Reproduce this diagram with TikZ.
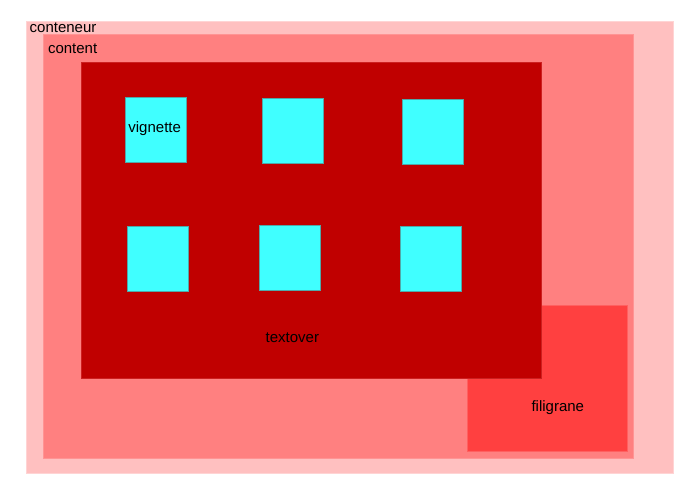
\documentclass[tikz,border=0pt]{standalone}
\usepackage{fontspec}
\setmainfont{Liberation Sans}
\usepackage{tikz}
\usetikzlibrary{positioning}
\definecolor{contpink}{HTML}{FFC0C0}
\definecolor{contline}{HTML}{FFD4D4}
\definecolor{contentred}{HTML}{FF8080}
\definecolor{contentline}{HTML}{FF9494}
\definecolor{overred}{HTML}{C00000}
\definecolor{overline}{HTML}{CC2020}
\definecolor{filired}{HTML}{FF4040}
\definecolor{fililine}{HTML}{FF6060}
\definecolor{vigcyan}{HTML}{40FFFF}
\definecolor{vigline}{HTML}{50A8A8}
\tikzset{
  %% ---- boxes ----
  zone/.style   = {rectangle, inner sep=0pt, outer sep=0pt,
                   line width=0.8pt},
  vigbox/.style = {zone, fill=vigcyan, draw=vigline,
                   minimum width=61pt, minimum height=65pt},
  %% ---- texts ----
  tag/.style    = {inner sep=0pt, anchor=base west,
                   font=\fontsize{15}{18}\selectfont},
}

\begin{document}
\begin{tikzpicture}[x=1pt, y=-1pt]
\useasboundingbox (0,0) rectangle (700,500);
\node[zone, fill=contpink, draw=contline,
      minimum width=647pt, minimum height=452pt]     (conteneur) at (349.5,247) {};
\node[zone, fill=contentred, draw=contentline,
      minimum width=590pt, minimum height=424pt]     (content)   at (338,246)   {};
\node[zone, fill=filired, draw=fililine,
      minimum width=160pt, minimum height=146pt]     (filigrane) at (547,378)   {};
\node[zone, fill=overred, draw=overline,
      minimum width=460pt, minimum height=316pt]     (textover)  at (311,220)   {};
\node[vigbox] (vig1) at (155.8,129.8) {};
\node[vigbox] (vig2) at (292.8,130.8) {};
\node[vigbox] (vig3) at (432.8,131.8) {};
\node[vigbox] (vig4) at (157.8,258.8) {};
\node[vigbox] (vig5) at (289.8,257.8) {};
\node[vigbox] (vig6) at (430.8,258.8) {};
\node[tag] (conteneurtxt) at (29.5,32.5)  {conteneur};
\node[tag] (contenttxt)   at (47.8,53.3)  {content};
\node[tag] (vignettetxt)  at (128.2,132.7) {vignette};
\node[tag] (textovertxt)  at (265.5,342.3) {textover};
\node[tag] (filigranetxt) at (531.3,411)   {filigrane};
\end{tikzpicture}
\end{document}
